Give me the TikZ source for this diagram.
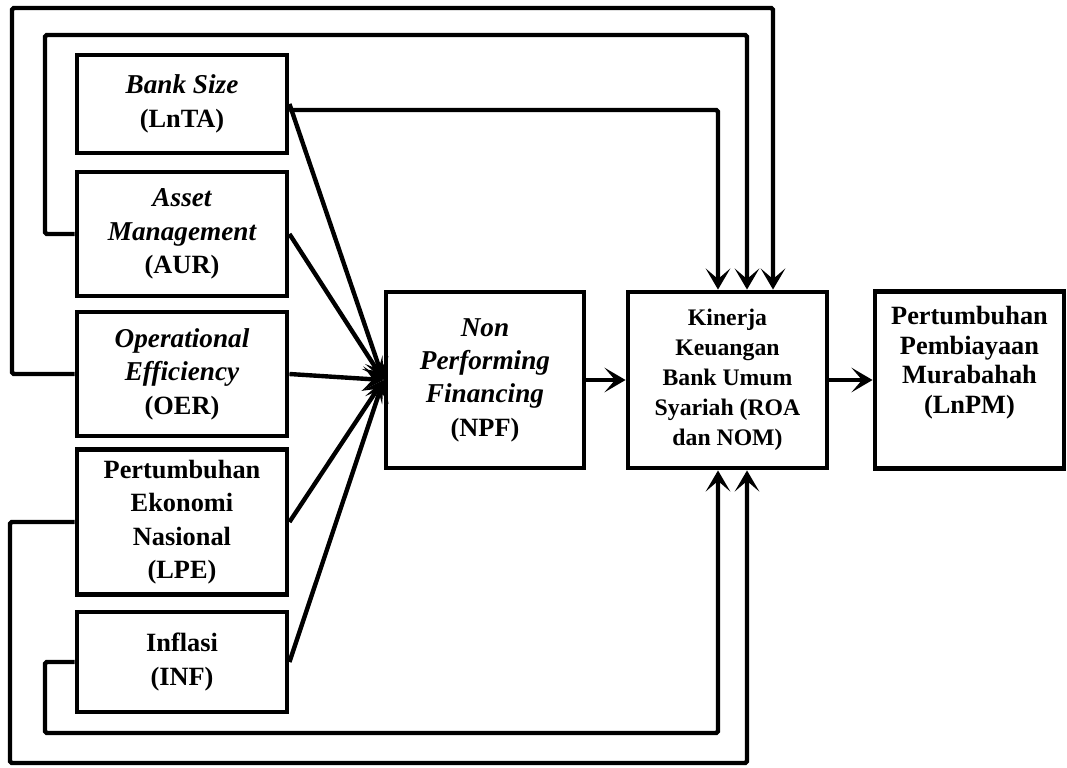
\documentclass[tikz,border=0pt]{standalone}
\usepackage{fontspec}
\setmainfont{Liberation Serif}
\usetikzlibrary{arrows.meta}
\tikzset{
  var box/.style={draw, line width=2.8pt, align=center, inner sep=2pt,
    font=\fontsize{15}{19}\selectfont\bfseries},
  link/.style={line width=2.5pt, -{Stealth[length=12pt,width=14pt,inset=6pt]}},
  loop link/.style={link, rounded corners=1pt},
}
\newcommand{\itl}[1]{{\itshape\fontsize{15.5}{19}\selectfont #1}}

\begin{document}
\begin{tikzpicture}[x=0.02cm, y=-0.02cm]
  \useasboundingbox (0,0) rectangle (1067,767);
  % Variables on the left
  \node[var box, minimum width=4.2cm, minimum height=1.96cm] (lnta) at (182,104)
    {\itl{Bank Size}\\(LnTA)};
  \node[var box, minimum width=4.2cm, minimum height=2.48cm] (aur) at (182,234)
    {\itl{Asset}\\\itl{Management}\\(AUR)};
  \node[var box, minimum width=4.2cm, minimum height=2.48cm] (oer) at (182,374)
    {\itl{Operational}\\\itl{Efficiency}\\(OER)};
  \node[var box, minimum width=4.2cm, minimum height=2.9cm] (lpe) at (182,522)
    {Pertumbuhan\\Ekonomi\\Nasional\\(LPE)};
  \node[var box, minimum width=4.2cm, minimum height=2cm] (inf) at (182,662)
    {Inflasi\\(INF)};
  % Chain in the middle
  \node[var box, minimum width=3.96cm, minimum height=3.52cm] (npf) at (485,380)
    {\itl{Non}\\\itl{Performing}\\\itl{Financing}\\(NPF)};
  \node[var box, minimum width=3.98cm, minimum height=3.52cm,
    font=\fontsize{13.5}{17}\selectfont\bfseries] (kin) at (727.5,380)
    {Kinerja\\Keuangan\\Bank Umum\\Syariah (ROA\\dan NOM)};
  \node[var box, minimum width=3.78cm, minimum height=3.54cm,
    font=\fontsize{15}{17}\selectfont\bfseries] (lnpm) at (969.5,380)
    {Pertumbuhan\\Pembiayaan\\Murabahah\\(LnPM)\\[6pt]};

  % Direct links to NPF
  \foreach \v in {lnta,aur,oer,lpe,inf}
    \draw[link] (\v.east) -- (npf.west);
  \draw[link] (npf) -- (kin);
  \draw[link] (kin) -- (lnpm);

  % Links over the top
  \coordinate (aurL) at (45,35);
  \coordinate (aurR) at (747,35);
  \coordinate (oerL) at (12,8);
  \coordinate (oerR) at (773,8);
  \draw[loop link] ([yshift=-0.12cm]lnta.east) -| (718,0 |- kin.north);
  \draw[loop link] (aur.west) -| (aurL) -- (aurR) -- (aurR |- kin.north);
  \draw[loop link] (oer.west) -| (oerL) -- (oerR) -- (oerR |- kin.north);

  % Links under the bottom
  \coordinate (lpeL) at (10,763);
  \coordinate (lpeR) at (747,763);
  \coordinate (infL) at (45,733);
  \coordinate (infR) at (718,733);
  \draw[loop link] (lpe.west) -| (lpeL) -- (lpeR) -- (lpeR |- kin.south);
  \draw[loop link] (inf.west) -| (infL) -- (infR) -- (infR |- kin.south);
\end{tikzpicture}
\end{document}
